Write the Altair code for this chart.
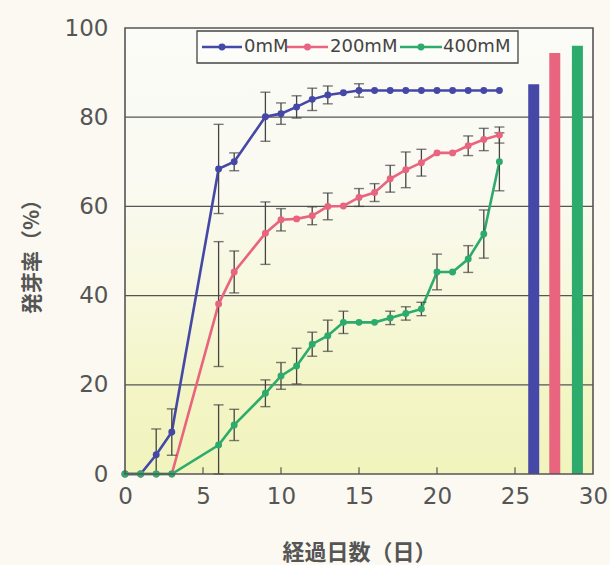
import altair as alt
import pandas as pd

# ---- data ----
days = [0, 1, 2, 3, 6, 7, 9, 10, 11, 12, 13, 14, 15, 16, 17, 18, 19, 20, 21, 22, 23, 24]
series_names = ["0mM", "200mM", "400mM"]
series_colors = ["#4548a6", "#e9647f", "#2dab6c"]

v0 = [0, 0, 4.3, 9.4, 68.4, 70, 80.1, 80.8, 82.3, 84, 85, 85.5, 86, 86, 86, 86, 86, 86, 86, 86, 86, 86]
e0 = [0, 0, 5.8, 5.2, 10, 2, 5.5, 2.4, 2.5, 2.5, 2, 0, 1.5, 0, 0, 0, 0, 0, 0, 0, 0, 0]
v200 = [0, 0, 0, 0, 38.1, 45.3, 54, 57, 57.2, 57.9, 60, 60.1, 62, 63.1, 66.2, 68.2, 69.8, 72, 72, 73.6, 75, 76]
e200 = [0, 0, 0, 0, 14, 4.7, 7, 2.5, 0, 2, 3, 0, 2, 2, 3, 4, 3, 0, 0, 2.2, 2.5, 1.8]
v400 = [0, 0, 0, 0, 6.5, 11, 18.1, 22, 24.2, 29.1, 31, 34, 34, 34, 35, 36, 37, 45.3, 45.3, 48.2, 53.8, 70]
e400 = [0, 0, 0, 0, 9, 3.5, 3, 3, 4, 2.7, 3.5, 2.5, 0, 0, 1.5, 1.5, 1.5, 4, 0, 3, 5.4, 6.5]

bar_days = [26.2, 27.55, 29.0]
bar_vals = [87.4, 94.4, 96.0]

x_ticks = [0, 5, 10, 15, 20, 25, 30]
y_ticks = [0, 20, 40, 60, 80, 100]
grid_vals = [20, 40, 60, 80]
inner_ticks = [5, 10, 15, 20, 25]

# ---- tables ----
rows = []
for name, vals, errs in zip(series_names, [v0, v200, v400], [e0, e200, e400]):
    for d, v, e in zip(days, vals, errs):
        rows.append({"series": name, "day": d, "val": v, "err": e,
                     "lo": max(v - e, 0), "hi": v + e})
df = pd.DataFrame(rows)
df_err = df[df["err"] > 0]
df_bar = pd.DataFrame({"series": series_names, "day": bar_days, "val": bar_vals})

W, H = 468, 446
FONT_NUM = "DejaVu Sans"
FONT_JP = "Noto Sans CJK JP"
AX = "#555555"

xs = alt.Scale(domain=[0, 30], nice=False, zero=False, padding=0)
ys = alt.Scale(domain=[0, 100], nice=False, padding=0)
cs = alt.Scale(domain=series_names, range=series_colors)

xaxis = alt.Axis(values=x_ticks, title="経過日数（日）", grid=False, domain=False, ticks=False,
                 labelFlush=False, labelOverlap=False,
                 labelFont=FONT_NUM, labelFontSize=23, labelColor=AX, labelPadding=11,
                 titleFont=FONT_JP, titleFontSize=22, titleColor=AX, titleFontWeight="bold",
                 titlePadding=34)
yaxis = alt.Axis(values=y_ticks, title="発芽率（%）", grid=False, domain=False, ticks=False,
                 labelFlush=False, labelOverlap=False,
                 labelFont=FONT_NUM, labelFontSize=23, labelColor=AX, labelPadding=17,
                 titleFont=FONT_JP, titleFontSize=21, titleColor=AX, titleFontWeight="bold",
                 titlePadding=22)


def XQ(field):
    return alt.X(field, type="quantitative", scale=xs, axis=xaxis)


def YQ(field):
    return alt.Y(field, type="quantitative", scale=ys, axis=yaxis)


C = alt.Color("series:N", scale=cs, legend=None)

one = pd.DataFrame({"x0": [0], "x1": [30], "y0": [0], "y1": [100]})

grad = alt.Gradient(
    gradient="linear", x1=0, y1=0, x2=0, y2=1,
    stops=[alt.GradientStop(color="#fbfbf7", offset=0),
           alt.GradientStop(color="#fafaf2", offset=0.35),
           alt.GradientStop(color="#f7f8dc", offset=0.6),
           alt.GradientStop(color="#f3f5c6", offset=0.8),
           alt.GradientStop(color="#f1f4bc", offset=1)])

bg = alt.Chart(one).mark_rect(fill=grad).encode(
    x=XQ("x0"), x2="x1:Q", y=YQ("y0"), y2="y1:Q")

grid = alt.Chart(pd.DataFrame({"g": grid_vals})).mark_rule(color=AX, strokeWidth=1.2).encode(
    y=YQ("g"))

tick_df = pd.DataFrame({"t": inner_ticks, "a": [0] * len(inner_ticks), "b": [1.5] * len(inner_ticks)})
ticks_in = alt.Chart(tick_df).mark_rule(color=AX, strokeWidth=1.2).encode(
    x=XQ("t"), y=YQ("a"), y2="b:Q")

bars = alt.Chart(df_bar).mark_bar(size=11).encode(x=XQ("day"), y=YQ("val"), color=C)

lines = alt.Chart(df).mark_line(strokeWidth=2.6).encode(
    x=XQ("day"), y=YQ("val"), color=C, detail="series:N")

err_rule = alt.Chart(df_err).mark_rule(color="#444444", strokeWidth=1.3).encode(
    x=XQ("day"), y=YQ("lo"), y2="hi:Q")
err_lo = alt.Chart(df_err).mark_tick(color="#444444", orient="horizontal", size=10, thickness=1.4).encode(
    x=XQ("day"), y=YQ("lo"))
err_hi = alt.Chart(df_err).mark_tick(color="#444444", orient="horizontal", size=10, thickness=1.4).encode(
    x=XQ("day"), y=YQ("hi"))

pts = alt.Chart(df).mark_point(filled=True, size=48, opacity=1).encode(
    x=XQ("day"), y=YQ("val"), color=C)

frame = alt.Chart(one).mark_rect(fillOpacity=0, stroke=AX, strokeWidth=1.6).encode(
    x=XQ("x0"), x2="x1:Q", y=YQ("y0"), y2="y1:Q")

# ---- legend (pixel layout inside the plot area) ----
leg_box = pd.DataFrame({"x0": [72], "x1": [393], "y0": [3], "y1": [35]})
leg_items = pd.DataFrame({
    "series": series_names,
    "lx0": [77, 162, 275],
    "lx1": [117, 203, 317],
    "tx": [119, 205, 318],
})
leg_items["dot"] = (leg_items["lx0"] + leg_items["lx1"]) / 2
leg_items["ly"] = 19

legend_box = alt.Chart(leg_box).mark_rect(fill="#fcfcf8", stroke="#444444", strokeWidth=1.3).encode(
    x=alt.X("x0:Q", scale=None, axis=None), x2="x1:Q",
    y=alt.Y("y0:Q", scale=None, axis=None), y2="y1:Q")
legend_lines = alt.Chart(leg_items).mark_rule(strokeWidth=2.6).encode(
    x=alt.X("lx0:Q", scale=None, axis=None), x2="lx1:Q",
    y=alt.Y("ly:Q", scale=None, axis=None), color=C)
legend_dots = alt.Chart(leg_items).mark_point(filled=True, size=48, opacity=1).encode(
    x=alt.X("dot:Q", scale=None, axis=None),
    y=alt.Y("ly:Q", scale=None, axis=None), color=C)
legend_text = alt.Chart(leg_items).mark_text(
    align="left", baseline="middle", font=FONT_NUM, fontSize=18, color="#444444").encode(
    x=alt.X("tx:Q", scale=None, axis=None),
    y=alt.Y("ly:Q", scale=None, axis=None), text="series:N")

chart = alt.layer(
    bg, grid, ticks_in, bars, lines, err_rule, err_lo, err_hi, pts, frame,
    legend_box, legend_lines, legend_dots, legend_text
).properties(
    width=W, height=H,
    autosize=alt.AutoSizeParams(type="none"),
    padding={"left": 125, "top": 28, "right": 17, "bottom": 91},
    background="#fbf9f1",
).configure_view(stroke=None)

chart.save("out.html", embed_options={"renderer": "svg", "actions": False})
